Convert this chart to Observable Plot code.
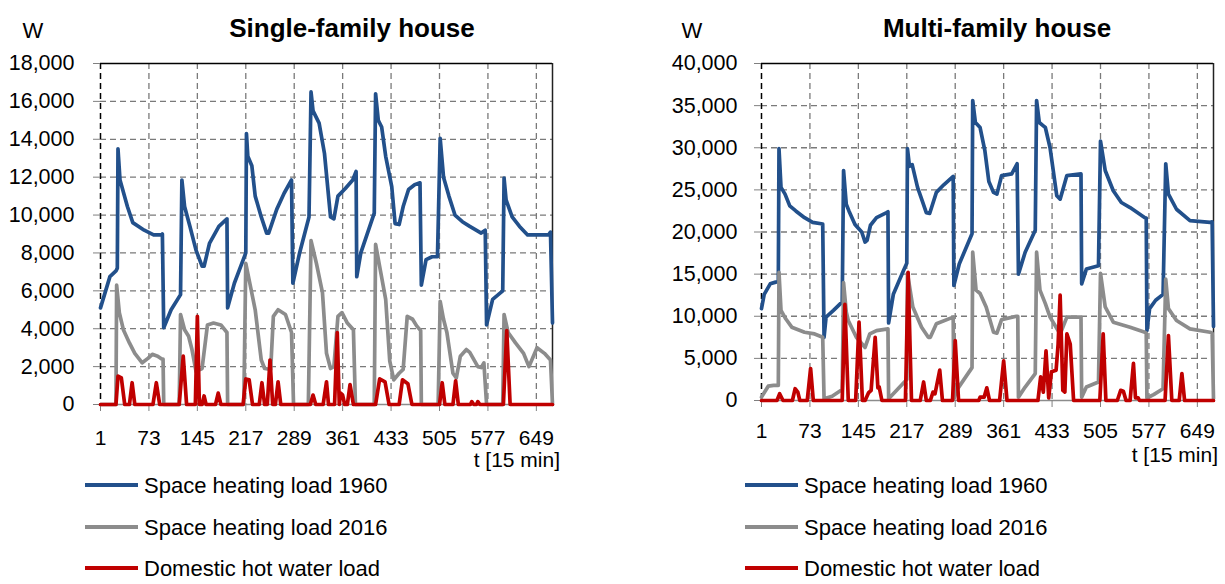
<!DOCTYPE html>
<html><head><meta charset="utf-8">
<script src="https://cdn.jsdelivr.net/npm/d3@7"></script>
<script src="https://cdn.jsdelivr.net/npm/@observablehq/plot@0.6"></script>
<style>
body{margin:0;background:#fff;width:1225px;height:584px;position:relative;overflow:hidden;font-family:'Liberation Sans',Arial,sans-serif;}
#left,#right{position:absolute;top:0;}
#left{left:0;} #right{left:620px;}
#overlay{position:absolute;left:0;top:0;pointer-events:none;}
</style></head><body>
<div id="left"></div><div id="right"></div>
<svg id="overlay" width="1225" height="584"></svg>
<script>
// ---- axis ticks ----
const xTicks = [1, 73, 145, 217, 289, 361, 433, 505, 577, 649];
const sfhYTicks = [0, 2000, 4000, 6000, 8000, 10000, 12000, 14000, 16000, 18000];
const mfhYTicks = [0, 5000, 10000, 15000, 20000, 25000, 30000, 35000, 40000];
const seriesNames = ["Space heating load 1960", "Space heating load 2016", "Domestic hot water load"];
const titles = ["Single-family house", "Multi-family house"];

// ---- Single-family house ----
const sfh1960T = [1,15,24,26,27,30,41,49,66,80,92,93,95,106,120,122,126,134,143,152,155,163,177,189,190,200,217,218,220,226,231,240,248,251,263,274,285,287,297,311,314,317,326,334,343,348,354,365,376,381,382,388,408,410,414,419,425,434,439,445,451,459,468,476,478,485,494,502,506,511,519,528,539,550,567,573,575,584,599,601,604,613,624,636,650,667,670,673];
const sfh1960W = [5100,6750,7050,7200,13500,11850,10450,9600,9200,8950,8950,9000,4050,5000,5800,11850,10450,9400,8150,7300,7300,8500,9400,9800,5100,6400,8000,14300,13100,12600,11000,9900,9050,9050,10300,11150,11850,6400,8000,9900,16500,15500,14850,13250,9900,9800,11000,11400,11850,12300,6750,8000,10100,16400,15000,14650,13100,11500,9550,9500,10450,11350,11600,11700,6300,7650,7800,7800,14050,12000,11000,10000,9650,9400,9050,9200,4200,5550,6000,11950,10800,9900,9400,8950,8950,8950,9100,4300];
const sfh2016T = [1,24,25,29,35,44,52,63,72,78,86,92,94,95,118,120,126,132,137,143,152,160,169,180,189,190,214,217,223,231,240,245,254,258,265,276,285,288,310,314,322,331,337,343,348,354,360,368,377,380,408,410,417,425,431,437,445,451,457,465,471,477,478,503,506,511,516,525,530,536,545,550,562,567,571,575,599,601,607,618,630,638,650,661,670,673];
const sfh2016W = [0,0,6300,4850,3950,3250,2700,2200,2450,2650,2550,2400,2400,0,0,4750,3950,3600,2900,1750,1900,4200,4300,4200,3800,0,0,7450,6400,5000,2350,1900,1850,4650,5000,4750,3800,0,0,8650,7450,5900,2700,1900,2000,4650,4850,4300,3950,0,0,8450,7100,5550,2300,1300,1650,1850,4650,4500,4150,3900,0,0,5450,4500,3800,1650,1400,2550,2900,2750,2000,1950,2200,0,0,4750,3800,3250,2700,2000,3000,2700,2350,0];
const sfhDhwT = [1,24,27,32,37,44,48,52,79,84,89,118,124,129,142,145,148,152,155,158,172,176,180,213,217,222,227,237,241,245,249,253,257,261,265,269,313,317,321,332,337,340,349,353,356,358,361,364,368,372,377,410,416,424,430,445,450,458,464,505,509,513,525,529,533,551,553,556,560,562,565,600,605,610,673];
const sfhDhwW = [0,0,1500,1400,0,0,1150,0,0,1150,0,0,2550,0,0,4650,0,0,450,0,0,600,0,0,1350,1300,0,0,1150,0,0,2350,0,0,1200,0,0,500,0,0,1200,0,0,3800,0,600,500,0,0,1050,0,0,1350,1200,0,0,1300,1100,0,0,1150,0,0,1250,0,0,150,0,0,150,0,0,3900,0,0];

// ---- Multi-family house ----
const mfh1960T = [1,5,14,22,26,27,30,36,43,52,65,77,92,94,97,108,121,123,127,131,140,150,155,158,163,172,187,189,190,197,212,217,218,221,225,233,240,246,251,261,272,286,287,295,314,315,319,326,333,339,346,351,358,373,381,383,393,408,410,414,420,423,430,440,445,455,476,477,484,502,505,512,524,536,549,571,573,574,578,587,598,602,606,618,638,668,671,673];
const mfh1960W = [10900,12600,13850,14050,14100,29900,25300,24500,23100,22500,21700,21150,20950,7500,9900,10700,11700,27300,23300,22500,20900,20000,18800,19000,20800,21700,22300,22400,9200,12600,15400,16300,29900,27800,28000,25300,23700,22300,22200,24700,25600,26600,13650,16200,19800,35600,33000,32400,29700,26000,24700,24500,26700,26900,28100,15000,17600,20200,35600,33000,32600,32400,30000,24300,23900,26700,26900,13850,15600,16000,30800,27300,24900,23500,22900,21700,21650,8300,10900,11900,12600,28100,24500,22700,21350,21150,21200,8800];
const mfh2016T = [1,11,19,26,27,30,37,46,65,80,92,94,106,121,123,127,130,142,155,162,172,189,190,203,217,218,226,239,249,252,261,286,287,291,314,315,320,326,335,346,351,358,380,382,383,393,408,410,415,423,430,445,455,476,477,484,502,505,512,524,549,571,573,574,584,598,602,606,618,638,668,671,673];
const mfh2016W = [400,1700,1800,1800,15200,10700,9700,8700,8100,7900,7500,200,500,1300,14000,10500,9500,7500,6300,7900,8300,8500,200,1300,2500,15100,11100,8700,7500,7500,9100,9900,200,1200,3900,17600,13100,12700,11100,8100,8000,9600,10000,10000,400,1600,3200,17600,13100,11500,9900,7900,9900,9900,400,1600,2200,15100,11100,9300,8700,8100,8000,300,700,1400,14400,10900,9500,8500,8100,8000,200];
const mfhDhwT = [1,24,28,33,47,51,55,58,69,74,78,121,125,130,141,146,151,155,160,164,170,174,176,180,215,219,224,237,242,246,252,256,259,266,270,285,289,294,324,326,332,336,340,355,361,366,412,416,420,424,428,432,439,442,445,449,452,455,460,465,504,509,513,530,535,539,543,549,554,557,561,563,601,606,611,622,626,630,673];
const mfhDhwW = [0,0,800,0,0,1400,1000,0,0,3800,0,0,11400,0,0,9300,0,0,900,1200,7500,1500,1600,0,0,15200,0,0,2200,0,0,1000,800,3600,0,0,7100,0,0,400,400,1500,0,0,4700,0,0,2800,1000,5900,300,3400,3600,6700,12500,1200,1000,7900,6700,0,0,7900,0,0,1200,1100,0,0,4400,300,300,0,0,7700,0,0,3200,0,0];

const colors = ["#22508b", "#8c8c8c", "#c00000"];
const zip = (T, W) => T.map((t, i) => ({t, w: W[i]}));

function chart({width, marginLeft, marginRight, marginBottom, yTicks, padY, padX, series}) {
  const yMax = yTicks[yTicks.length - 1];
  const grid = {stroke: "#7a7a7a", strokeOpacity: 1, strokeWidth: 1.3, strokeDasharray: "6,4"};
  return Plot.plot({
    width, height: 470, marginTop: 63, marginLeft, marginRight, marginBottom,
    style: {fontFamily: "'Liberation Sans', Arial, sans-serif", fontSize: "21px", color: "#000", background: "transparent", overflow: "visible"},
    x: {domain: [1, 673], label: null},
    y: {domain: [0, yMax], label: null},
    marks: [
      Plot.gridY(yTicks.filter(v => v > 0 && v < yMax), grid),
      Plot.gridX(xTicks.slice(1), grid),
      Plot.ruleY([0], {stroke: "#8c8c8c", strokeWidth: 1.5}),
      Plot.ruleY([yMax], {stroke: "#000", strokeWidth: 1.5}),
      Plot.ruleX([673], {stroke: "#222", strokeWidth: 1.5}),
      Plot.ruleX([1], {stroke: "#000", strokeWidth: 1.5, strokeDasharray: "6,4"}),
      Plot.axisY(yTicks, {tickSize: 7, tickPadding: padY, tickFormat: d3.format(","), stroke: "#808080", fontSize: 21.5}),
      Plot.axisX(xTicks, {tickSize: 7, tickPadding: padX, tickFormat: d => String(d), stroke: "#808080", fontSize: 21}),
      ...series.map((s, i) => Plot.line(s, {x: "t", y: "w", stroke: colors[i], strokeWidth: 3.7, strokeLinejoin: "round", strokeLinecap: "round"}))
    ]
  });
}

document.getElementById("left").append(chart({
  width: 612, marginLeft: 100, marginRight: 60, marginBottom: 66, yTicks: sfhYTicks, padY: 19, padX: 19,
  series: [zip(sfh1960T, sfh1960W), zip(sfh2016T, sfh2016W), zip(sfhDhwT, sfhDhwW)]
}));
document.getElementById("right").append(chart({
  width: 605, marginLeft: 141, marginRight: 12, marginBottom: 70, yTicks: mfhYTicks, padY: 17, padX: 16,
  series: [zip(mfh1960T, mfh1960W), zip(mfh2016T, mfh2016W), zip(mfhDhwT, mfhDhwW)]
}));

// ---- titles, unit labels and legends ----
const ov = d3.select("#overlay").style("font-family", "'Liberation Sans', Arial, sans-serif");
const panels = [
  {titleX: 352, wX: 33, tX: 560, tY: 467, legX: 85},
  {titleX: 997, wX: 692, tX: 1218, tY: 462, legX: 745}
];
panels.forEach((p, k) => {
  ov.append("text").attr("x", p.titleX).attr("y", 37).attr("text-anchor", "middle")
    .attr("font-size", 26).attr("font-weight", "bold").text(titles[k]);
  ov.append("text").attr("x", p.wX).attr("y", 38).attr("text-anchor", "middle")
    .attr("font-size", 22).text("W");
  ov.append("text").attr("x", p.tX).attr("y", p.tY).attr("text-anchor", "end")
    .attr("font-size", 21).text("t [15 min]");
  seriesNames.forEach((name, i) => {
    const y = [485, 527, 568][i];
    ov.append("line").attr("x1", p.legX).attr("x2", p.legX + 53).attr("y1", y).attr("y2", y)
      .attr("stroke", colors[i]).attr("stroke-width", 4);
    ov.append("text").attr("x", p.legX + 59).attr("y", y + 8).attr("font-size", 22).text(name);
  });
});
</script>
</body></html>
